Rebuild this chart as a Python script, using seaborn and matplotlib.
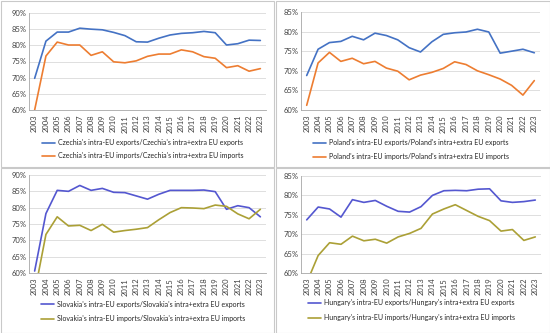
import matplotlib
matplotlib.use("Agg")
import matplotlib.pyplot as plt
import seaborn as sns
import pandas as pd
from matplotlib.patches import Rectangle
from matplotlib.ticker import FuncFormatter

years = list(range(2003, 2024))
year_labels = [str(y) for y in years]

cz_exp = [69.8, 81.3, 84.1, 84.1, 85.3, 85.0, 84.8, 84.0, 83.0, 81.1, 81.0,
          82.2, 83.2, 83.7, 83.9, 84.3, 83.9, 80.1, 80.5, 81.6, 81.5]
cz_imp = [60.0, 76.7, 81.0, 80.1, 80.1, 76.9, 78.0, 74.9, 74.6, 75.2, 76.6,
          77.3, 77.3, 78.6, 78.0, 76.5, 76.0, 73.1, 73.7, 72.0, 72.8]
pl_exp = [68.8, 75.5, 77.2, 77.5, 78.8, 77.9, 79.6, 79.0, 77.9, 75.9, 74.8,
          77.4, 79.3, 79.7, 79.9, 80.6, 79.9, 74.5, 75.0, 75.5, 74.6]
pl_imp = [61.2, 72.0, 74.7, 72.4, 73.2, 71.8, 72.4, 70.7, 69.9, 67.7, 68.9,
          69.6, 70.6, 72.3, 71.6, 70.0, 69.0, 67.9, 66.3, 63.8, 67.5]
sk_exp = [60.6, 78.2, 85.3, 85.0, 86.8, 85.3, 85.9, 84.7, 84.6, 83.6, 82.6,
          84.1, 85.3, 85.3, 85.3, 85.4, 84.9, 79.5, 80.6, 80.0, 77.2]
sk_imp = [54.0, 71.8, 77.2, 74.4, 74.6, 73.0, 74.9, 72.5, 73.0, 73.4, 73.9,
          76.3, 78.5, 80.0, 79.9, 79.7, 80.8, 80.4, 78.1, 76.6, 79.5]
hu_exp = [73.7, 77.0, 76.5, 74.4, 78.9, 78.2, 78.7, 77.2, 75.9, 75.7, 77.1,
          80.0, 81.2, 81.3, 81.2, 81.6, 81.7, 78.6, 78.2, 78.4, 78.8]
hu_imp = [57.5, 64.5, 67.8, 67.4, 69.5, 68.3, 68.7, 67.7, 69.3, 70.2, 71.5,
          75.2, 76.5, 77.6, 76.1, 74.6, 73.5, 70.8, 71.2, 68.4, 69.3]

sns.set_theme(style="white")
plt.rcParams['font.family'] = ['Lato', 'DejaVu Sans']

W, H = 550, 333
fig = plt.figure(figsize=(5.5, 3.33), dpi=100)
fig.patch.set_facecolor('white')

def fx(x):
    return x / W

def fy(y):
    return 1 - y / H

panels = [
    dict(country="Czechia", exp=cz_exp, imp=cz_imp, ylim=(60, 90),
         colors=("#4472C4", "#ED7D31"), box=(29, 13, 266, 110),
         leg=(42, 139.5), sp=0.85, frame=(0.5, 0.5, 273.5, 166.5)),
    dict(country="Poland", exp=pl_exp, imp=pl_imp, ylim=(60, 85),
         colors=("#4472C4", "#ED7D31"), box=(301, 12, 540, 110),
         leg=(313, 139.5), sp=0.95, frame=(275.5, 0.5, 549.5, 166.5)),
    dict(country="Slovakia", exp=sk_exp, imp=sk_imp, ylim=(60, 90),
         colors=("#5457D0", "#ABA036"), box=(29, 175, 266, 273),
         leg=(41, 300.5), sp=1.15, frame=(0.5, 167.5, 273.5, 332.5)),
    dict(country="Hungary", exp=hu_exp, imp=hu_imp, ylim=(60, 85),
         colors=("#5457D0", "#ABA036"), box=(301, 176, 541, 273),
         leg=(308, 299.5), sp=1.15, frame=(275.5, 167.5, 549.5, 332.5)),
]

for p in panels:
    x0, y0, x1, y1 = p["frame"]
    fig.patches.append(Rectangle((fx(x0), fy(y1)), fx(x1 - x0), (y1 - y0) / H,
                                 transform=fig.transFigure, fill=False,
                                 edgecolor="#c9c9c9", linewidth=0.8, zorder=0))

    l, t, r, b = p["box"]
    ax = fig.add_axes([fx(l), fy(b), fx(r - l), (b - t) / H])
    c = p["country"]
    lab_e = f"{c}'s intra-EU exports/{c}'s intra+extra EU exports"
    lab_i = f"{c}'s intra-EU imports/{c}'s intra+extra EU imports"
    df = pd.DataFrame({
        "pos": list(range(len(years))) * 2,
        "val": p["exp"] + p["imp"],
        "series": [lab_e] * len(years) + [lab_i] * len(years),
    })
    sns.lineplot(data=df, x="pos", y="val", hue="series", ax=ax,
                 palette=list(p["colors"]), linewidth=1.2, legend=True)
    ax.set_xlim(-0.5, len(years) - 0.5)
    ax.set_ylim(*p["ylim"])
    ax.set_yticks(range(p["ylim"][0], p["ylim"][1] + 1, 5))
    ax.yaxis.set_major_formatter(FuncFormatter(lambda v, _: f"{v:.0f}%"))
    ax.set_xticks(range(len(years)))
    ax.set_xticklabels(year_labels, rotation=90)
    ax.tick_params(axis="both", labelsize=5.5, colors="#404040", pad=1.5)
    ax.tick_params(axis="x", length=2, color="#a0a0a0", width=0.5)
    ax.tick_params(axis="y", length=0)
    ax.set_xlabel("")
    ax.set_ylabel("")
    ax.grid(axis="y", color="#d9d9d9", linewidth=0.6)
    ax.set_axisbelow(True)
    for s in ["top", "right"]:
        ax.spines[s].set_visible(False)
    for s in ["left", "bottom"]:
        ax.spines[s].set_color("#a6a6a6")
        ax.spines[s].set_linewidth(0.6)
    handles, labels = ax.get_legend_handles_labels()
    ax.get_legend().remove()
    lx, ly = p["leg"]
    fig.legend(handles, labels, loc="upper left",
               bbox_to_anchor=(fx(lx), fy(ly)), frameon=False,
               fontsize=5.0, handlelength=1.9, handletextpad=0.35,
               labelspacing=p["sp"], borderaxespad=0, borderpad=0,
               labelcolor="#262626")

fig.savefig("out.png", dpi=100, facecolor="white")
